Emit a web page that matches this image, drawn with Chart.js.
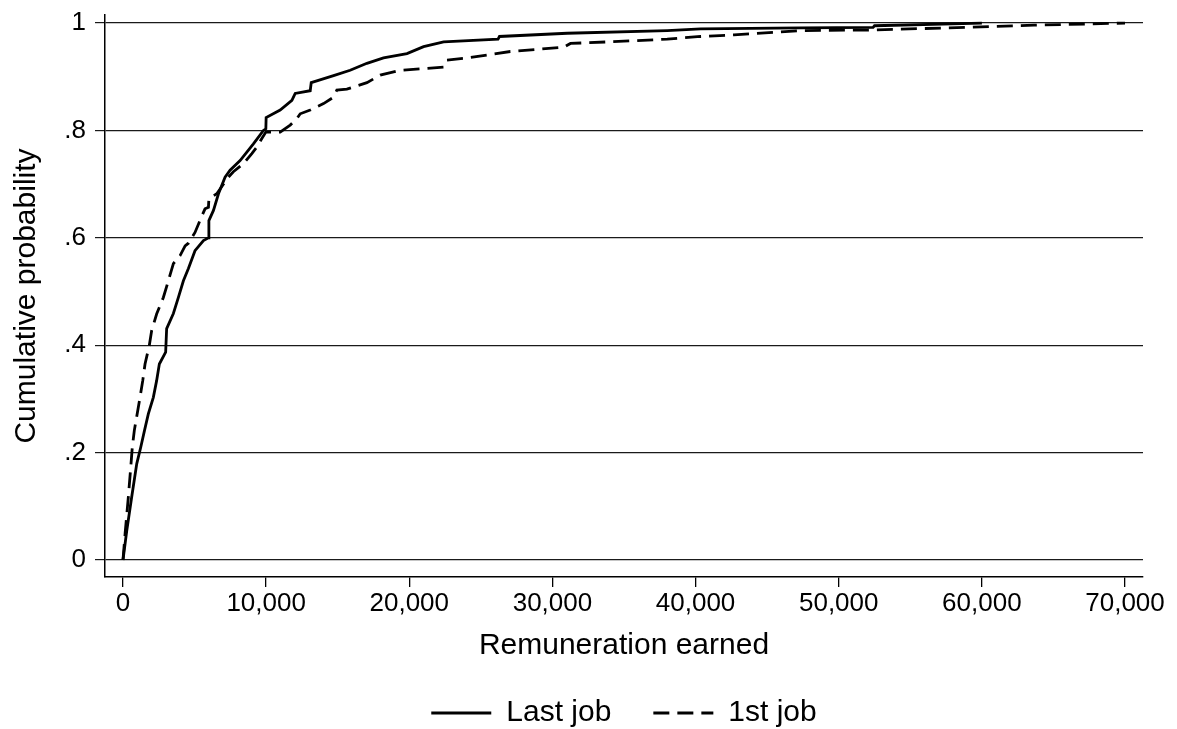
<!DOCTYPE html>
<html>
<head>
<meta charset="utf-8">
<script src="https://cdn.jsdelivr.net/npm/chart.js@4"></script>
<style>
  body { margin: 0; background: #fff; }
  canvas { display: block; }
</style>
</head>
<body>
<canvas id="cdfChart" width="1177" height="729"></canvas>
<script>
// ── Data ──
const lastJobX = [0, 260, 600, 960, 1240, 1500, 1770, 2120, 2350, 2540, 2980, 3050, 3520, 3870, 4220, 4570, 5030, 5620, 5970, 6000,
    6320, 6670, 7130, 7480, 8180, 9110, 9810, 9980, 10000, 10980, 11800, 12030, 13080, 13150, 14710, 15870, 17040, 18200,
    19840, 21000, 22400, 26200, 26300, 31030, 38020, 40350, 47340, 52400, 52500, 60000];
const lastJobY = [0, .054, .116, .179, .21, .241, .272, .303, .334, .365, .387, .431, .459, .489, .52, .543, .576, .595, .60, .632,
    .651, .682, .713, .726, .744, .775, .80, .803, .824, .838, .856, .869, .874, .889, .902, .912, .925, .935,
    .943, .956, .965, .970, .975, .981, .986, .989, .991, .992, .995, 1];

const firstJobX = [0, 150, 370, 560, 650, 790, 1190, 1380, 1540, 1840, 2000, 2350, 2820, 3170, 3520, 3990, 4340, 4570, 5030, 5500,
    5730, 5970, 6000, 6550, 7360, 7710, 8410, 9000, 9350, 9700, 9980, 10980, 11680, 12150, 12380, 13080, 14010, 14710,
    14940, 15640, 17040, 17970, 19370, 22400, 22630, 24030, 27060, 30790, 31260, 35690, 38020, 40350, 42680, 47340,
    52000, 59000, 63640, 70000];
const firstJobY = [0, .05, .116, .179, .21, .241, .303, .334, .365, .40, .427, .458, .489, .52, .552, .567, .585, .59, .61, .64,
    .654, .657, .673, .682, .713, .723, .738, .757, .769, .785, .797, .797, .81, .822, .831, .838, .85, .862,
    .875, .877, .889, .903, .912, .918, .931, .935, .947, .955, .962, .967, .970, .975, .978, .986,
    .987, .992, .996, 1];

const xTicks = [0, 10000, 20000, 30000, 40000, 50000, 60000, 70000];
const xTickLabels = ['0', '10,000', '20,000', '30,000', '40,000', '50,000', '60,000', '70,000'];
const yTicks = [0, .2, .4, .6, .8, 1];
const yTickLabels = ['0', '.2', '.4', '.6', '.8', '1'];

const FONT = '"Liberation Sans", Arial, Helvetica, sans-serif';

function toPoints(xs, ys) {
    return xs.map((x, i) => ({ x: x, y: ys[i] }));
}

// legend swatches should use the line's own dash and width
function legendLabels(chart) {
    return Chart.defaults.plugins.legend.labels.generateLabels(chart).map(item => {
        const ds = chart.data.datasets[item.datasetIndex];
        item.lineDash = ds.borderDash || [];
        item.lineWidth = ds.borderWidth;
        return item;
    });
}

// ── Chart ──
const ctx = document.getElementById('cdfChart').getContext('2d');
new Chart(ctx, {
    type: 'line',
    data: {
        datasets: [{
            label: 'Last job',
            data: toPoints(lastJobX, lastJobY),
            borderColor: '#000',
            backgroundColor: '#000',
            borderWidth: 2.8,
            pointRadius: 0,
            pointStyle: 'line',
            tension: 0,
            fill: false
        }, {
            label: '1st job',
            data: toPoints(firstJobX, firstJobY),
            borderColor: '#000',
            backgroundColor: '#000',
            borderWidth: 2.8,
            borderDash: [16, 8],
            pointRadius: 0,
            pointStyle: 'line',
            tension: 0,
            fill: false
        }]
    },
    options: {
        responsive: false,
        animation: false,
        devicePixelRatio: 1,
        layout: { padding: { left: 0, right: 34, top: 15, bottom: -9 } },
        plugins: {
            tooltip: { enabled: false },
            legend: {
                position: 'bottom',
                fullSize: false,
                labels: {
                    usePointStyle: true,
                    pointStyleWidth: 60,
                    padding: 42,
                    color: '#000',
                    font: { family: FONT, size: 30 },
                    generateLabels: legendLabels
                }
            }
        },
        scales: {
            x: {
                type: 'linear',
                min: -1257,
                max: 71257,
                afterBuildTicks: s => { s.ticks = xTicks.map(v => ({ value: v })); },
                afterFit: s => { s.height = 79; s.paddingLeft = 0; s.paddingRight = 0; },
                ticks: {
                    autoSkip: false,
                    maxRotation: 0,
                    padding: 1,
                    color: '#000',
                    font: { family: FONT, size: 26 },
                    callback: (v, i) => xTickLabels[i]
                },
                grid: { drawOnChartArea: false, drawTicks: true, tickLength: 10, color: '#000', lineWidth: 1.3 },
                border: { display: true, color: '#000', width: 1.5 },
                title: {
                    display: true,
                    text: 'Remuneration earned',
                    color: '#000',
                    font: { family: FONT, size: 30 },
                    padding: { top: 0, bottom: -8 }
                }
            },
            y: {
                type: 'linear',
                min: -0.0317,
                max: 1.015,
                afterBuildTicks: s => { s.ticks = yTicks.map(v => ({ value: v })); },
                afterFit: s => { s.width = 105; s.paddingTop = 0; s.paddingBottom = 0; },
                ticks: {
                    padding: 9,
                    color: '#000',
                    font: { family: FONT, size: 26 },
                    callback: (v, i) => yTickLabels[i]
                },
                grid: { color: '#1a1a1a', lineWidth: 1.2, tickLength: 10 },
                border: { display: true, color: '#000', width: 1.5 },
                title: {
                    display: true,
                    text: 'Cumulative probability',
                    color: '#000',
                    font: { family: FONT, size: 30 },
                    padding: { top: 9, bottom: 0 }
                }
            }
        }
    }
});
</script>
</body>
</html>
